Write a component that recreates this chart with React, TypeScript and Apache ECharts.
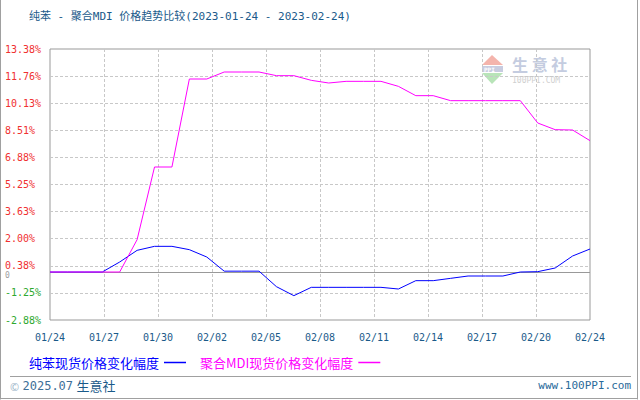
import React, { useEffect, useRef } from "react";
import * as echarts from "echarts";

const dates = [
  "01/24", "01/25", "01/26", "01/27", "01/28", "01/29", "01/30", "01/31",
  "02/01", "02/02", "02/03", "02/04", "02/05", "02/06", "02/07", "02/08",
  "02/09", "02/10", "02/11", "02/12", "02/13", "02/14", "02/15", "02/16",
  "02/17", "02/18", "02/19", "02/20", "02/21", "02/22", "02/23", "02/24",
];

const benzeneChange = [
  0, 0, 0, 0, 0.6, 1.3, 1.54, 1.54, 1.34, 0.9, 0.05, 0.05, 0.05, -0.88, -1.42, -0.92,
  -0.92, -0.92, -0.92, -0.92, -1.02, -0.52, -0.52, -0.38, -0.24, -0.24, -0.24, 0.0, 0.02, 0.24, 0.96, 1.38,
];

const mdiChange = [
  0, 0, 0, 0, 0, 1.94, 6.3, 6.3, 11.58, 11.58, 12.0, 12.0, 12.0, 11.78, 11.78, 11.5,
  11.34, 11.44, 11.44, 11.44, 11.14, 10.58, 10.58, 10.28, 10.28, 10.28, 10.28, 10.28, 8.94, 8.54, 8.52, 7.88,
];

const xTickLabels = ["01/24", "01/27", "01/30", "02/02", "02/05", "02/08", "02/11", "02/14", "02/17", "02/20", "02/24"];
const yTickLabels = ["-2.88%", "-1.25%", "0.38%", "2.00%", "3.63%", "5.25%", "6.88%", "8.51%", "10.13%", "11.76%", "13.38%"];

const seriesNames = ["纯苯现货价格变化幅度", "聚合MDI现货价格变化幅度"];
const titleText = "纯苯 - 聚合MDI 价格趋势比较(2023-01-24 - 2023-02-24)";

const Y_MIN = -2.88;
const Y_STEP = 1.626;
const X_STEP = (dates.length - 1) / (xTickLabels.length - 1);

const CJK = "'Noto Sans CJK SC', sans-serif";
const MONO = "'DejaVu Sans Mono', monospace";
const MIXED = "'DejaVu Sans Mono', 'Noto Sans CJK SC', monospace";

export default function App() {
  const ref = useRef<HTMLDivElement>(null);

  useEffect(() => {
    if (!ref.current) return;
    const chart = echarts.init(ref.current, null, { renderer: "svg" });
    const shift = -Y_MIN;
    const toData = (arr: number[]) => arr.map((v, i) => [i, v + shift]);

    chart.setOption({
      animation: false,
      backgroundColor: "#ffffff",
      title: {
        text: titleText,
        left: 24,
        top: 6,
        textStyle: { color: "#1a5a8a", fontSize: 11, fontWeight: "normal", fontFamily: MIXED },
      },
      grid: {
        left: 50,
        right: 50,
        top: 49,
        bottom: 80,
        show: true,
        borderColor: "#999999",
        borderWidth: 1,
        backgroundColor: "transparent",
      },
      legend: {
        left: 24,
        top: 351,
        align: "right",
        icon: "rect",
        itemWidth: 22,
        itemHeight: 1.5,
        itemGap: 14,
        textStyle: { fontSize: 13, fontFamily: CJK },
        data: [
          { name: seriesNames[0], textStyle: { color: "#0000ff" } },
          { name: seriesNames[1], textStyle: { color: "#ff00ff" } },
        ],
      },
      xAxis: {
        type: "value",
        min: 0,
        max: dates.length - 1,
        interval: X_STEP,
        axisLine: { show: false },
        axisTick: { show: false },
        axisLabel: {
          margin: 12,
          color: "#1a5a8a",
          fontSize: 10,
          fontFamily: MONO,
          showMinLabel: true,
          showMaxLabel: true,
          formatter: (v: number) => xTickLabels[Math.round(v / X_STEP)] ?? "",
        },
        splitLine: {
          show: true,
          showMinLine: false,
          showMaxLine: false,
          lineStyle: { color: "#c8c8c8", type: [3, 2], width: 1 },
        },
      },
      yAxis: {
        type: "value",
        min: 0,
        max: Y_STEP * (yTickLabels.length - 1),
        interval: Y_STEP,
        axisLine: { show: false },
        axisTick: { show: false },
        axisLabel: {
          align: "left",
          margin: 45,
          fontSize: 10,
          fontFamily: MONO,
          showMinLabel: true,
          showMaxLabel: true,
          formatter: (v: number) => yTickLabels[Math.round(v / Y_STEP)] ?? "",
          color: (v: any) => (Math.round(Number(v) / Y_STEP) < 2 ? "#2ea82e" : "#f03030"),
        },
        splitLine: {
          show: true,
          showMinLine: false,
          showMaxLine: false,
          lineStyle: { color: "#c8c8c8", type: [3, 2], width: 1 },
        },
      },
      series: [
        {
          name: seriesNames[0],
          type: "line",
          data: toData(benzeneChange),
          symbol: "none",
          lineStyle: { color: "#0000ff", width: 1 },
          itemStyle: { color: "#0000ff" },
          z: 3,
          markLine: {
            silent: true,
            z: 1,
            symbol: ["none", "none"],
            label: { show: false },
            lineStyle: { color: "#999999", type: "solid", width: 1 },
            data: [{ yAxis: shift }],
          },
        },
        {
          name: seriesNames[1],
          type: "line",
          data: toData(mdiChange),
          symbol: "none",
          lineStyle: { color: "#ff00ff", width: 1 },
          itemStyle: { color: "#ff00ff" },
          z: 4,
        },
      ],
      graphic: [
        // outer frame
        { type: "line", shape: { x1: 0.5, y1: 0, x2: 0.5, y2: 399.5 }, style: { stroke: "#a0a0a0", lineWidth: 1 }, silent: true },
        { type: "line", shape: { x1: 637.5, y1: 0, x2: 637.5, y2: 399.5 }, style: { stroke: "#a0a0a0", lineWidth: 1 }, silent: true },
        { type: "line", shape: { x1: 0, y1: 398.5, x2: 638, y2: 398.5 }, style: { stroke: "#a0a0a0", lineWidth: 1 }, silent: true },
        // footer separator
        { type: "line", shape: { x1: 10, y1: 376.5, x2: 631, y2: 376.5 }, style: { stroke: "#a0a0a0", lineWidth: 1 }, silent: true },
        // zero marker
        {
          type: "text", left: 5, top: 271, silent: true,
          style: { text: "0", fill: "#a0a0a0", fontSize: 8, fontFamily: MONO },
        },
        // footer texts
        {
          type: "text", left: 10, top: 379, silent: true,
          style: {
            text: "{a|©} {b|2025.07} {c|生意社}",
            rich: {
              a: { fill: "#9ab4c8", fontSize: 11, fontFamily: CJK },
              b: { fill: "#3d6f98", fontSize: 12, fontFamily: MONO },
              c: { fill: "#1a5a8a", fontSize: 13, fontFamily: CJK },
            },
          },
        },
        {
          type: "text", right: 9, top: 380, silent: true,
          style: { text: "www.100PPI.com", fill: "#2a6a9a", fontSize: 11, fontFamily: MONO },
        },
        // watermark
        {
          type: "group", left: 482, top: 55, silent: true, z: 1,
          children: [
            { type: "polygon", shape: { points: [[10, 0], [21, 10], [0, 10]] }, style: { fill: "#f4b4ac" } },
            { type: "rect", shape: { x: 0, y: 11, width: 21, height: 6 }, style: { fill: "#c8cce0" } },
            { type: "text", x: 2, y: 11, style: { text: "PPI", fill: "#ffffff", fontSize: 6, fontFamily: MONO, fontWeight: "bold" } },
            { type: "polygon", shape: { points: [[0, 18], [21, 18], [10, 29]] }, style: { fill: "#b8e4b8" } },
            { type: "text", x: 30, y: 1, style: { text: "生 意 社", fill: "#c4cce0", fontSize: 16, fontFamily: CJK, fontWeight: "bold" } },
            { type: "text", x: 30, y: 21, style: { text: "100PPI.COM", fill: "#d0d0d0", fontSize: 8, fontFamily: MONO } },
          ],
        },
      ],
    });

    return () => chart.dispose();
  }, []);

  return <div ref={ref} style={{ width: 640, height: 400, position: "absolute", left: 0, top: 0 }} />;
}
